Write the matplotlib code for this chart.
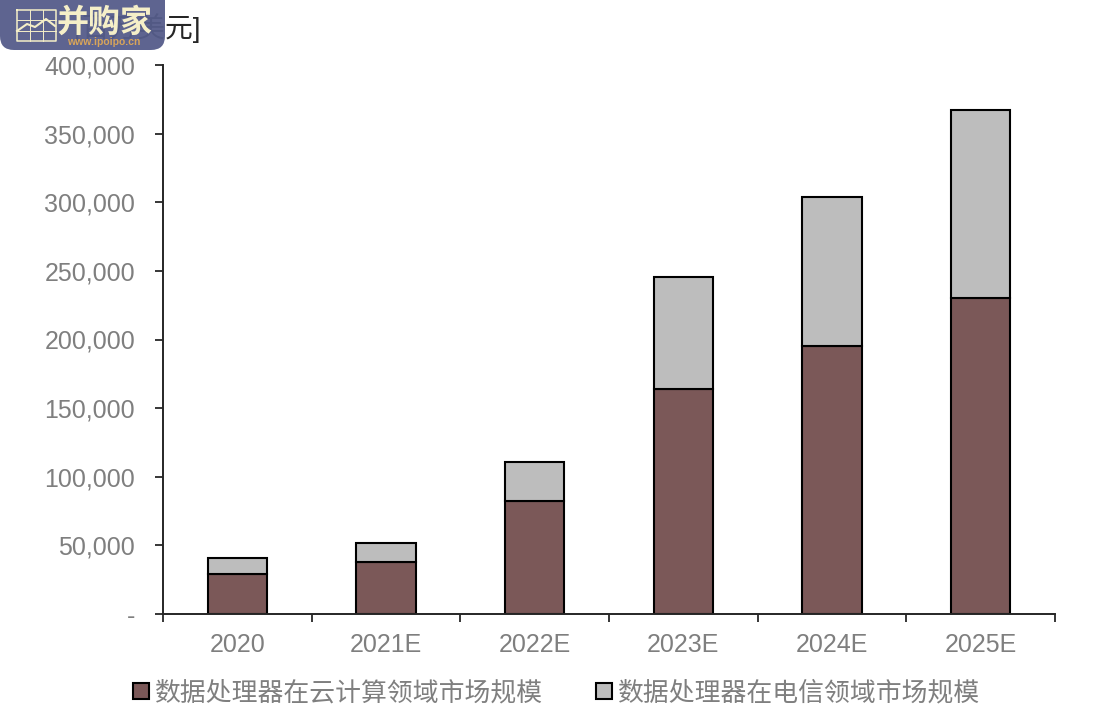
import matplotlib
matplotlib.use('Agg')
import matplotlib.pyplot as plt
from matplotlib.patches import FancyBboxPatch
import numpy as np

plt.rcParams['font.family'] = ['Liberation Sans', 'Noto Sans CJK SC', 'DejaVu Sans']

# datos
years = ['2020', '2021E', '2022E', '2023E', '2024E', '2025E']
cloud = [29000, 38000, 82300, 163900, 195300, 230200]
telecom = [11800, 13800, 28400, 81600, 108500, 137000]
yticks = [0, 50000, 100000, 150000, 200000, 250000, 300000, 350000, 400000]
ylabels = ['-', '50,000', '100,000', '150,000', '200,000', '250,000', '300,000', '350,000', '400,000']
cloud_label = '数据处理器在云计算领域市场规模'
telecom_label = '数据处理器在电信领域市场规模'
unit_text = '[百万美元]'

W, H = 1094, 726
grey = '#7f7f7f'
dark = '#262626'

fig = plt.figure(figsize=(W / 100, H / 100), dpi=100)
ax = fig.add_axes([163 / W, 1 - 614 / H, (1055 - 163) / W, (614 - 65) / H])

x = np.arange(len(years))
ax.bar(x, cloud, width=0.4, color='#7b5858', edgecolor='black', linewidth=1.5, label=cloud_label)
ax.bar(x, telecom, width=0.4, bottom=cloud, color='#bdbdbd', edgecolor='black', linewidth=1.5, label=telecom_label)

ax.set_xlim(-0.5, len(years) - 0.5)
ax.set_ylim(0, 400000)
ax.set_yticks(yticks)
ax.set_yticklabels(ylabels)
ax.set_xticks(np.arange(len(years) + 1) - 0.5)
ax.set_xticklabels([])
ax.set_xticks(x, minor=True)
ax.set_xticklabels(years, minor=True)
ax.tick_params(axis='x', which='minor', length=0, labelsize=18, labelcolor=grey, pad=14)
ax.tick_params(axis='x', which='major', length=6, width=1.3, color=dark)
ax.tick_params(axis='y', length=6, width=1.3, color=dark, labelsize=18, labelcolor=grey, pad=14)
for side in ['top', 'right']:
    ax.spines[side].set_visible(False)
for side in ['left', 'bottom']:
    ax.spines[side].set_linewidth(1.4)
    ax.spines[side].set_color(dark)

fig.legend(loc='center', bbox_to_anchor=(557 / W, 1 - 693 / H), ncol=2, frameon=False,
           fontsize=18.6, labelcolor=grey, handlelength=0.6, handleheight=0.6,
           handletextpad=0.25, columnspacing=2.05, borderpad=0, borderaxespad=0)

# titulo de unidades, tapado en parte por la marca de agua
fig.text(201 / W, 1 - 28 / H, unit_text, ha='right', va='center', fontsize=20, color='#262626')

# marca de agua en pixeles, encima de todo
ov = fig.add_axes([0, 0, 1, 1], facecolor='none', zorder=10)
ov.set_xlim(0, W)
ov.set_ylim(H, 0)
ov.axis('off')
ov.add_patch(FancyBboxPatch((0, -20), 165, 70, boxstyle='round,pad=0,rounding_size=14',
                            facecolor='#555c8a', edgecolor='none', alpha=0.95))
cream = '#f5efc8'
ov.plot([17, 56, 56, 17, 17], [10, 10, 41, 41, 10], color=cream, lw=1.1)
for gx in [30, 43]:
    ov.plot([gx, gx], [10, 41], color=cream, lw=0.7)
for gy in [20, 31]:
    ov.plot([17, 56], [gy, gy], color=cream, lw=0.7)
ov.plot([17, 27, 35, 46, 55], [31, 24, 27, 19, 26], color=cream, lw=1.5)
ov.text(105, 23, '并购家', ha='center', va='center', fontsize=23, color=cream, fontweight='bold')
ov.text(104, 42, 'www.ipoipo.cn', ha='center', va='center', fontsize=7.5, color='#d9a55a', fontweight='bold')

fig.savefig('out.png', dpi=100)
